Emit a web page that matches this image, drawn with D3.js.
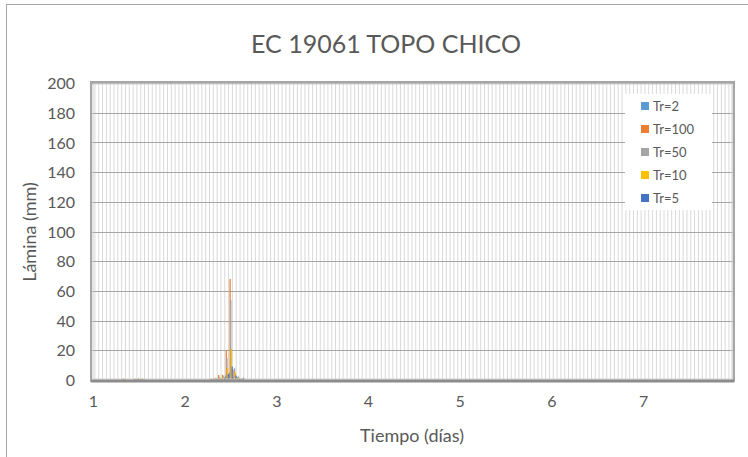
<!DOCTYPE html>
<html>
<head>
<meta charset="utf-8">
<script src="https://cdn.jsdelivr.net/npm/d3@7"></script>
<style>
  body { margin: 0; background: #fff; }
  svg text { font-family: Lato, "Liberation Sans", sans-serif; fill: #595959; }
</style>
</head>
<body>
<div id="chart"></div>
<script>
// series shown in the legend (same order as drawn in each cluster)
const seriesNames = ['Tr=2', 'Tr=100', 'Tr=50', 'Tr=10', 'Tr=5'];
const seriesColors = ['#5b9bd5', '#ed7d31', '#a5a5a5', '#ffc000', '#4472c4'];

// hour index (from day 1) of the intervals with rain, everything else is 0
const hours = [8, 11, 12, 13, 31, 32, 33, 34, 35, 36, 37, 38, 39];
const tr2   = [0.3, 0.3, 0.3, 0.3, 0.3, 0.5, 0.8, 1.0, 3, 5, 2, 1.0, 0.5];
const tr100 = [1.0, 1.0, 1.2, 1.0, 1.0, 1.5, 3.4, 3.5, 20, 68, 7, 2.0, 1.0];
const tr50  = [0.6, 0.7, 0.8, 0.6, 0.7, 1.0, 2.0, 3.0, 15, 54, 8, 2.5, 1.0];
const tr10  = [0.4, 0.5, 0.5, 0.4, 0.5, 0.8, 1.5, 2.0, 8, 21, 5, 1.5, 0.8];
const tr5   = [0.3, 0.4, 0.4, 0.3, 0.4, 1.0, 1.0, 1.5, 4, 9, 3, 1.0, 1.5];
const seriesValues = [tr2, tr100, tr50, tr10, tr5];

const xTicks = [1, 2, 3, 4, 5, 6, 7];
const yTicks = [0, 20, 40, 60, 80, 100, 120, 140, 160, 180, 200];
const nHours = 168;

const w = 748, h = 457;
const svg = d3.select('#chart').append('svg')
  .attr('width', w).attr('height', h);

// outer chart frame (runs off the right and bottom edge)
svg.append('rect')
  .attr('x', 6.5).attr('y', 4.5)
  .attr('width', 760).attr('height', 470)
  .attr('fill', '#fff').attr('stroke', '#a6a6a6');

svg.append('text')
  .attr('x', 386).attr('y', 53)
  .attr('text-anchor', 'middle')
  .style('font-size', '25px')
  .text('EC 19061 TOPO CHICO');

const plot = { left: 91, top: 82, right: 734, bottom: 381 };

const xScale = d3.scaleLinear().domain([1, 8]).range([93, 734.7]);
const yScale = d3.scaleLinear().domain([0, 200]).range([380, 83]);
const band = xScale(1 + 1 / 24) - xScale(1);

// vertical gridlines, one per hour, between categories
svg.append('g').selectAll('line')
  .data(d3.range(nHours + 1))
  .enter().append('line')
  .attr('x1', d => xScale(1 + (d - 0.5) / 24))
  .attr('x2', d => xScale(1 + (d - 0.5) / 24))
  .attr('y1', plot.top).attr('y2', plot.bottom)
  .attr('stroke', '#d9d9d9')
  .attr('stroke-width', 1);

// horizontal gridlines
svg.append('g').selectAll('line')
  .data(yTicks)
  .enter().append('line')
  .attr('x1', plot.left).attr('x2', plot.right)
  .attr('y1', d => Math.round(yScale(d)) + 0.5)
  .attr('y2', d => Math.round(yScale(d)) + 0.5)
  .attr('stroke', '#a6a6a6');

// bars
seriesValues.forEach((vals, i) => {
  svg.append('g').selectAll('rect')
    .data(hours.map((hr, j) => ({ hr: hr, v: vals[j] })))
    .enter().append('rect')
    .attr('x', d => xScale(1 + d.hr / 24) - band * 0.45 + i * band * 0.18)
    .attr('width', band * 0.33)
    .attr('y', d => yScale(d.v))
    .attr('height', d => yScale(0) - yScale(d.v))
    .attr('fill', seriesColors[i]);
});

// plot area border, double gray line
svg.append('rect')
  .attr('x', plot.left).attr('y', plot.top)
  .attr('width', plot.right - plot.left).attr('height', plot.bottom - plot.top)
  .attr('fill', 'none').attr('stroke', '#a6a6a6').attr('stroke-width', 2);
svg.append('rect')
  .attr('x', plot.left + 2).attr('y', plot.top + 2)
  .attr('width', plot.right - plot.left - 4).attr('height', plot.bottom - plot.top - 4)
  .attr('fill', 'none').attr('stroke', '#d0d0d0').attr('stroke-width', 1);
svg.append('line')
  .attr('x1', plot.left).attr('x2', plot.right)
  .attr('y1', 381).attr('y2', 381)
  .attr('stroke', '#8c8c8c').attr('stroke-width', 3);

// axes
const yAxis = d3.axisLeft(yScale).tickValues(yTicks).tickSize(0).tickPadding(0);
const yg = svg.append('g').attr('transform', 'translate(75,0)').call(yAxis);
yg.select('.domain').remove();
yg.selectAll('text').style('font-size', '16px').attr('dy', '0.35em');

const xAxis = d3.axisBottom(xScale).tickValues(xTicks).tickFormat(d3.format('d'))
  .tickSize(0).tickPadding(0);
const xg = svg.append('g').attr('transform', 'translate(0,396)').call(xAxis);
xg.select('.domain').remove();
xg.selectAll('text').style('font-size', '16px').attr('dy', '0.7em');

svg.append('text')
  .attr('transform', 'translate(36,232) rotate(-90)')
  .attr('text-anchor', 'middle')
  .style('font-size', '18px')
  .text('Lámina (mm)');

svg.append('text')
  .attr('x', 412).attr('y', 442)
  .attr('text-anchor', 'middle')
  .style('font-size', '18px')
  .text('Tiempo (días)');

// legend
const legend = svg.append('g');
legend.append('rect')
  .attr('x', 625).attr('y', 94)
  .attr('width', 87).attr('height', 116)
  .attr('fill', '#fff');
seriesNames.forEach((name, i) => {
  const cy = 106 + i * 23;
  legend.append('rect')
    .attr('x', 641).attr('y', cy - 4)
    .attr('width', 8).attr('height', 8)
    .attr('fill', seriesColors[i]);
  legend.append('text')
    .attr('x', 653).attr('y', cy)
    .attr('dy', '0.35em')
    .style('font-size', '13px')
    .text(name);
});
</script>
</body>
</html>
